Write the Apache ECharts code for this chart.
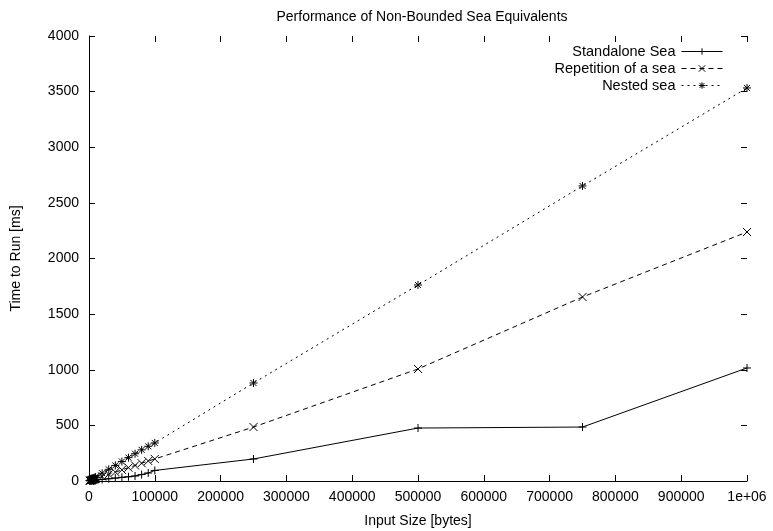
<!DOCTYPE html>
<html>
<head>
<meta charset="utf-8">
<script src="https://cdn.jsdelivr.net/npm/echarts@6/dist/echarts.min.js"></script>
<style>html,body{margin:0;padding:0;background:#fff}#c{width:773px;height:531px}</style>
</head>
<body>
<div id="c"></div>
<script>
var inputSizes = [1000,2000,3000,4000,5000,6000,7000,8000,9000,10000,20000,30000,40000,50000,60000,70000,80000,90000,100000,250000,500000,750000,1000000];
var standaloneSea = [2,3,3,4,5,5,6,7,7,8,14,20,26,33,38,45,58,72,95,198,476,485,1016];
var repetitionSea = [2,4,6,8,10,12,14,16,18,20,40,60,80,100,120,140,160,180,198,485,1007,1654,2238];
var nestedSea = [4,7,11,14,18,21,25,28,32,35,70,105,140,175,210,245,280,312,342,881,1762,2652,3533];
var seriesNames = ['Standalone Sea','Repetition of a sea','Nested sea'];
var titleText = 'Performance of Non-Bounded Sea Equivalents';
var xName = 'Input Size [bytes]';
var yName = 'Time to Run [ms]';

function pairs(xs, ys){ return xs.map(function(x,i){ return [x, ys[i]]; }); }
var FONT = 'Liberation Sans';
var symPlus = 'path://M0,4H8M4,0V8';
var symCross = 'path://M0,0L8,8M0,8L8,0';
var symStar = 'path://M0,4H8M4,0V8M1,1L7,7M1,7L7,1';

function mkSeries(name, ys, sym, dash){
  return {
    name: name, type: 'line', data: pairs(inputSizes, ys),
    symbol: sym, symbolSize: 8, showAllSymbol: true,
    lineStyle: {color: '#000', width: 1, type: dash},
    itemStyle: {color: 'rgba(0,0,0,0)', borderColor: '#000', borderWidth: 1},
    emphasis: {disabled: true}, animation: false
  };
}
function ticks(){ return {show: true, inside: true, length: 6, lineStyle: {color: '#000', width: 1}}; }

var chart = echarts.init(document.getElementById('c'));
chart.setOption({
  backgroundColor: '#fff',
  animation: false,
  title: {text: titleText, left: 417, textAlign: 'center', top: 5,
    textStyle: {fontFamily: FONT, fontSize: 14, fontWeight: 'normal', color: '#000'}},
  grid: {left: 89, right: 26, top: 36, bottom: 50, outerBoundsMode: 'none'},
  legend: {
    orient: 'vertical', right: 45, top: 39, align: 'right',
    itemWidth: 41, itemHeight: 8, itemGap: 2,
    lineStyle: {width: 1},
    itemStyle: {color: 'rgba(0,0,0,0)', borderColor: '#000', borderWidth: 1},
    textStyle: {fontFamily: FONT, fontSize: 14.5, color: '#000', padding: [0, 1, 0, 0]},
    data: seriesNames, selectedMode: false
  },
  xAxis: [{
    type: 'value', min: 0, max: 1000000, interval: 100000,
    name: xName, nameLocation: 'middle', nameGap: 33,
    nameTextStyle: {fontFamily: FONT, fontSize: 14, color: '#000'},
    axisLine: {show: true, onZero: false, lineStyle: {color: '#000', width: 1}},
    axisTick: ticks(), splitLine: {show: false},
    axisLabel: {fontFamily: FONT, fontSize: 14, color: '#000', margin: 9,
      formatter: function(v){ return v === 1000000 ? '1e+06' : String(v); }}
  },{
    type: 'value', position: 'top', min: 0, max: 1000000, interval: 100000,
    axisLine: {show: false, onZero: false}, axisTick: ticks(), axisLabel: {show: false}, splitLine: {show: false}
  }],
  yAxis: [{
    type: 'value', min: 0, max: 4000, interval: 500,
    name: yName, nameLocation: 'middle', nameGap: 66, nameRotate: 90,
    nameTextStyle: {fontFamily: FONT, fontSize: 14, color: '#000'},
    axisLine: {show: true, onZero: false, lineStyle: {color: '#000', width: 1}},
    axisTick: ticks(), splitLine: {show: false},
    axisLabel: {fontFamily: FONT, fontSize: 14, color: '#000', margin: 10,
      formatter: function(v){ return String(v); }}
  },{
    type: 'value', position: 'right', min: 0, max: 4000, interval: 500,
    axisLine: {show: false, onZero: false}, axisTick: ticks(), axisLabel: {show: false}, splitLine: {show: false}
  }],
  series: [
    mkSeries(seriesNames[0], standaloneSea, symPlus, 'solid'),
    mkSeries(seriesNames[1], repetitionSea, symCross, [5,4]),
    mkSeries(seriesNames[2], nestedSea, symStar, [2,4])
  ]
});
</script>
</body>
</html>
